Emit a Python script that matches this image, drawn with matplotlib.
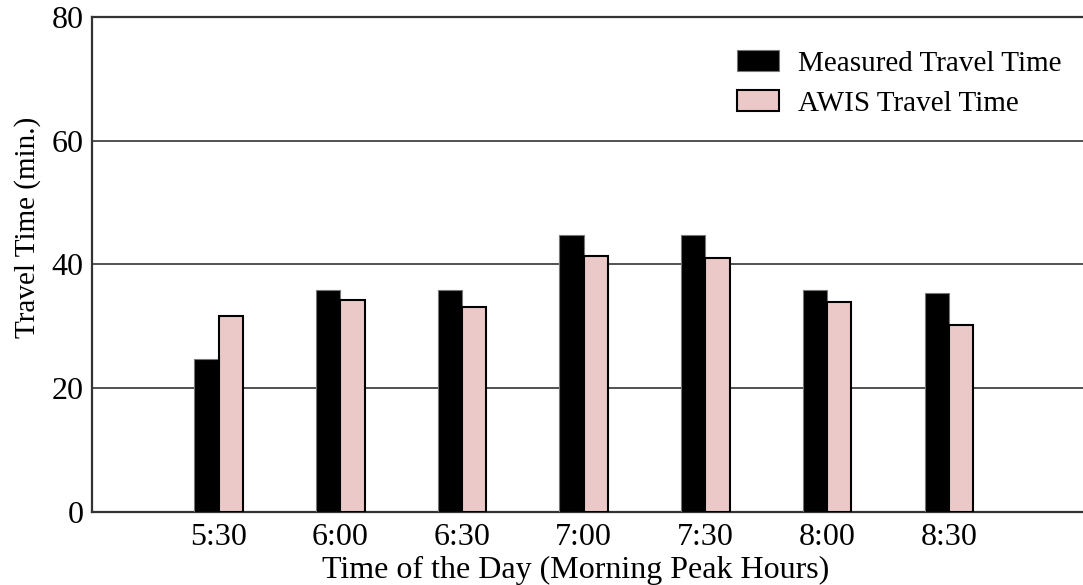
import matplotlib

matplotlib.use("Agg")
import matplotlib.pyplot as plt
import numpy as np

times = ["5:30", "6:00", "6:30", "7:00", "7:30", "8:00", "8:30"]
measured = [24.7, 35.9, 35.9, 44.8, 44.8, 35.8, 35.4]
awis = [31.7, 34.2, 33.1, 41.3, 41.1, 34.0, 30.2]

_PINK = "#ecc9c9"
_GRID = "#333333"

plt.rcParams["font.family"] = ["Liberation Serif", "DejaVu Serif"]
plt.rcParams["font.size"] = 23

fig = plt.figure(figsize=(10.83, 5.85), dpi=100)
ax = fig.add_axes([0.085, 0.125, 0.917, 0.846])

x = np.arange(len(times))
w = 0.2
ax.bar(x - w / 2, measured, width=w, color="black", edgecolor="#777777",
       lw=0.8, label="Measured Travel Time", zorder=3)
ax.bar(x + w / 2, awis, width=w, color=_PINK, edgecolor="black",
       lw=1.5, label="AWIS Travel Time", zorder=3)

ax.set_ylim(0, 80)
ax.set_xlim(-1.04, 7.12)
ax.set_yticks([0, 20, 40, 60, 80])
ax.set_xticks(x)
ax.set_xticklabels(times)
ax.tick_params(axis="x", length=0, pad=8)
ax.tick_params(axis="y", length=0, pad=6)
ax.grid(True, axis="y", color=_GRID, lw=1.2, zorder=0)

for side in ("top", "left", "bottom"):
    ax.spines[side].set_color(_GRID)
    ax.spines[side].set_linewidth(1.6)
ax.spines["right"].set_visible(False)

ax.set_xlabel("Time of the Day (Morning Peak Hours)", labelpad=3, x=0.487)
ax.set_ylabel("Travel Time (min.)", fontsize=21, labelpad=8, y=0.574)

leg = ax.legend(loc="upper left", bbox_to_anchor=(737 / 1083, 1 - 50 / 585),
                bbox_transform=fig.transFigure, frameon=False, borderpad=0,
                fontsize=21, handlelength=1.45, handleheight=0.72,
                handletextpad=0.65, labelspacing=0.47, borderaxespad=0)

fig.savefig("out.png", dpi=100)
plt.close(fig)
